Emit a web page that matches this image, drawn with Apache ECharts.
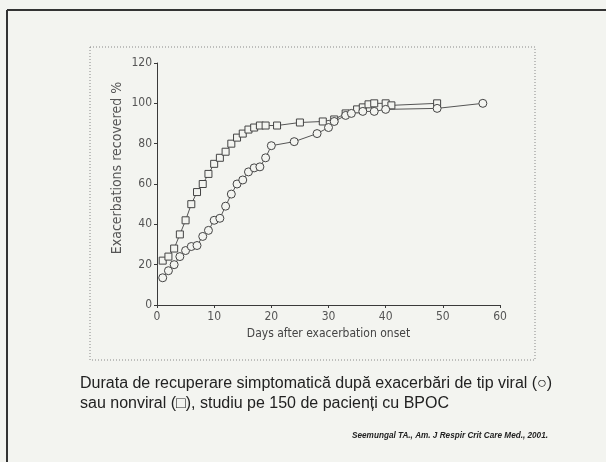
<!DOCTYPE html>
<html>
<head>
<meta charset="utf-8">
<script src="https://cdn.jsdelivr.net/npm/echarts@6/dist/echarts.min.js"></script>
<style>
  html, body { margin: 0; padding: 0; background: #f3f4f0; }
  #chart { width: 606px; height: 462px; }
</style>
</head>
<body>
<div id="chart"></div>
<script>
// Cumulative recovery (%) by day after exacerbation onset
// Non-viral exacerbations (squares)
const nonviralDays = [1, 2, 3, 4, 5, 6, 7, 8, 9, 10, 11, 12, 13, 14, 15, 16, 17, 18, 19, 21, 25, 29, 31, 33, 35, 36, 37, 38, 40, 41, 49];
const nonviralPct  = [22, 24, 28, 35, 42, 50, 56, 60, 65, 70, 73, 76, 80, 83, 85, 87, 88, 89, 89, 89, 90.5, 91, 92, 95, 97, 98, 99.5, 100, 100, 99, 100];
// Viral exacerbations (circles)
const viralDays = [1, 2, 3, 4, 5, 6, 7, 8, 9, 10, 11, 12, 13, 14, 15, 16, 17, 18, 19, 20, 24, 28, 30, 31, 33, 34, 36, 38, 40, 49, 57];
const viralPct  = [13.5, 17, 20, 24, 27, 29, 29.5, 34, 37, 42, 43, 49, 55, 60, 62, 66, 68, 68.5, 73, 79, 81, 85, 88, 91, 94, 95, 96, 96, 97, 97.5, 100];

const xTicks = { min: 0, max: 60, step: 10 };
const yTicks = { min: 0, max: 120, step: 20 };

const yTitle = 'Exacerbations recovered %';
const xTitle = 'Days after exacerbation onset';
const captionLines = [
  'Durata de recuperare simptomatică după exacerbări de tip viral (○)',
  'sau nonviral (□), studiu pe 150 de pacienți cu BPOC'
];
const citation = 'Seemungal TA., Am. J Respir Crit Care Med., 2001.';

const pairs = (xs, ys) => xs.map((x, i) => [x, ys[i]]);

const axisFont = "'Liberation Sans Narrow', 'DejaVu Sans Condensed', 'Liberation Sans', sans-serif";
const ink = '#3a3a3a';

const chart = echarts.init(document.getElementById('chart'));
chart.setOption({
  backgroundColor: '#f3f4f0',
  animation: false,
  grid: { left: 157, right: 106, top: 63, bottom: 157 },
  xAxis: {
    type: 'value',
    min: xTicks.min, max: xTicks.max, interval: xTicks.step,
    name: xTitle,
    nameLocation: 'middle',
    nameGap: 22,
    nameTextStyle: { fontFamily: axisFont, fontSize: 12, color: '#444' },
    axisLine: { show: true, lineStyle: { color: ink, width: 1 } },
    axisTick: { show: true, length: 3, lineStyle: { color: ink } },
    axisLabel: { fontFamily: axisFont, fontSize: 12, color: '#555', margin: 6 },
    splitLine: { show: false }
  },
  yAxis: {
    type: 'value',
    min: yTicks.min, max: yTicks.max, interval: yTicks.step,
    axisLine: { show: true, lineStyle: { color: ink, width: 1 } },
    axisTick: { show: true, length: 3, lineStyle: { color: ink } },
    axisLabel: { fontFamily: axisFont, fontSize: 12, color: '#555', margin: 5 },
    splitLine: { show: false }
  },
  series: [
    {
      name: 'nonviral',
      type: 'line',
      data: pairs(nonviralDays, nonviralPct),
      symbol: 'rect',
      symbolSize: 7,
      lineStyle: { color: '#555', width: 1 },
      itemStyle: { color: '#f3f4f0', borderColor: '#444', borderWidth: 1 }
    },
    {
      name: 'viral',
      type: 'line',
      data: pairs(viralDays, viralPct),
      symbol: 'circle',
      symbolSize: 8,
      lineStyle: { color: '#555', width: 1 },
      itemStyle: { color: '#f3f4f0', borderColor: '#444', borderWidth: 1 }
    }
  ],
  graphic: [
    // outer page frame
    { type: 'line', shape: { x1: 7, y1: 10, x2: 606, y2: 10 }, style: { stroke: '#333', lineWidth: 2 }, silent: true },
    { type: 'line', shape: { x1: 7, y1: 10, x2: 7, y2: 462 }, style: { stroke: '#333', lineWidth: 2 }, silent: true },
    // dotted figure box
    { type: 'rect', shape: { x: 90, y: 47, width: 445, height: 313 },
      style: { fill: null, stroke: '#888', lineWidth: 1, lineDash: [1, 2] }, silent: true },
    // y-axis title
    { type: 'text', x: 117, y: 168, rotation: Math.PI / 2,
      style: { text: yTitle, font: "14px " + axisFont, fill: '#555', align: 'center', verticalAlign: 'middle' } },
    // caption
    { type: 'text', left: 80, top: 374,
      style: { text: captionLines.join('\n'), font: "16px 'Liberation Sans', Arial, sans-serif", fill: '#222', lineHeight: 20 } },
    { type: 'text', right: 58, top: 432,
      style: { text: citation, font: "italic bold 8.2px 'Liberation Sans', Arial, sans-serif", fill: '#222' } }
  ]
});
</script>
</body>
</html>
